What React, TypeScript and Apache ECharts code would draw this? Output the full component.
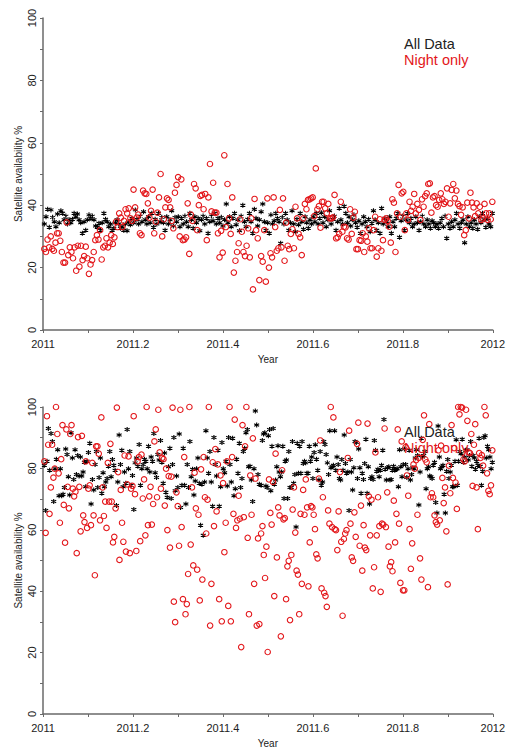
import React, { useEffect, useRef } from "react";
import * as echarts from "echarts";

// ---- Data ----
const X_MIN = 2011;
const X_MAX = 2012;
const Y_TICKS = [0, 20, 40, 60, 80, 100];
const X_TICK_STEP = 0.2;

// Sampling windows (decimal year) for each half of the year
const H1 = [2011.003, 2011.481];
const H2 = [2011.485, 2011.999];

// Top panel, "All Data"
const topAllH1 = [34, 36.3, 38.7, 32.9, 38.5, 36.1, 34.7, 33.1, 37.2, 34.4, 38.2, 37.4, 35.3, 36.5, 34, 35.3, 34.4, 35.5, 37.4, 36.3, 37.2, 35.3, 34.4, 31, 34.7, 32, 35.3, 36.9, 35.8, 36.5, 35.3, 33.3, 32.9, 34.2, 32, 34.4, 37.4, 35.5, 34.7, 33.1, 34, 32, 32.6, 34.4, 35.3, 34, 32.6, 33.1, 32, 34, 31.8, 34.7, 33.7, 35.8, 34.4, 38.5, 35.5, 34, 36.5, 34.7, 37.9, 35.3, 34, 36.3, 34.4, 37.4, 32.9, 35.5, 34, 37.4, 34.7, 36.1, 34.4, 32, 36.3, 34, 35.3, 38.2, 33.3, 36.1, 34.7, 36.3, 33.1, 35.8, 34, 36.5, 34.7, 33.1, 37.4, 35.3, 32.6, 36.3, 34.4, 35.8, 31.8, 35.3, 36.5, 34, 35.8, 31, 34.7, 36.5, 35, 37.4, 34, 35.8, 34.4, 36.1, 33.3, 35.3, 40.4, 34.4, 36.3, 33.1, 35.8, 37.4, 33.7, 35.3, 31.8, 36.5, 40, 34.7, 33.1, 35.5, 37.4, 34.7, 31, 38.7, 35.8, 33.3, 35.3];
const topAllH2 = [37.9, 40.4, 34.7, 32, 34.4, 31, 36.9, 34, 35, 37.4, 35.8, 34.7, 27.8, 36.1, 34, 37.4, 35.3, 32, 34.4, 38.2, 34, 31.5, 35.5, 33.7, 37.4, 34.7, 32.3, 36.3, 34.4, 32.6, 35.3, 34, 36.3, 34.7, 37.4, 34, 35.8, 37.6, 34.4, 36.3, 33.1, 35.3, 38.2, 34, 35.5, 36.5, 32, 34.7, 39, 35.3, 34, 39.7, 37.4, 34.4, 36.3, 33.3, 35.3, 36.9, 34.4, 32.9, 35, 31, 34, 36.3, 34.7, 33.1, 35.5, 31.5, 34.2, 38.2, 35.3, 32, 34.4, 31, 39, 34, 35.8, 34.7, 33.1, 36.3, 31, 34.7, 33.1, 35.8, 37.4, 29.7, 35, 36.5, 32, 35.3, 37.4, 34.4, 35.8, 33.1, 34, 36.3, 34.4, 32, 34.7, 36.5, 34, 33.1, 35.3, 34, 32.6, 35, 34.4, 33.1, 34, 32.6, 34.4, 35.8, 33.1, 36.5, 29.4, 34, 32.6, 34.7, 33.1, 35.3, 37.4, 34, 32.6, 34.4, 35.3, 28, 34, 36.3, 33.1, 34.4, 32.6, 35.3, 34, 32.3, 36.3, 34.4, 37.4, 35.3, 32.9, 35.8, 34, 33.1, 37.4];

// Top panel, "Night only"
const topNightH1 = [26, 25, 29, 26.5, 30, 26, 25.4, 28, 31, 31, 28.6, 25, 21.6, 21.6, 34.5, 24, 26.5, 25, 23, 26.5, 19, 27, 20.3, 27, 22.4, 23.7, 26.7, 23, 18, 21, 22.4, 25, 28.8, 30.4, 29, 32, 22.6, 26.5, 27, 29.4, 26.5, 28, 30.4, 27.6, 29.7, 34.7, 33, 37.4, 36, 33, 35, 38.7, 37.4, 39, 35.8, 35, 45, 39.3, 36, 37, 31, 30.4, 44.7, 43.8, 43.6, 40.6, 36, 38.2, 45, 31, 34.7, 37.6, 42.5, 50, 30, 35.5, 39.3, 42.2, 41.7, 39.3, 35, 32.6, 44, 46.5, 49, 30, 48.3, 28.8, 29, 29.7, 40.6, 24.4, 37, 35, 46.8, 45.4, 32, 40, 43, 43.3, 38.7, 43.6, 28.8, 42.5, 53.2, 38, 47.2, 37.6, 37.6, 31, 23.3, 31.8, 24.8, 56, 33, 46.8, 35.8, 30.8, 42.5, 18.4, 22.2, 25, 27.8, 35.5, 31.5, 25, 23.7, 27, 32.6, 23.3, 35.8, 13, 42, 32, 29.4, 16];
const topNightH2 = [23.7, 21.9, 32, 15.5, 42.2, 20, 24.6, 23.3, 42.5, 33, 25.4, 26.2, 38.5, 26.5, 42.2, 22.2, 34.4, 27, 25.9, 30.8, 32.3, 26.2, 39.5, 35.8, 30.8, 29.7, 24, 35.8, 40.4, 38.7, 41.7, 41.9, 42.2, 42.5, 36.5, 51.8, 38.7, 39.7, 32.8, 41.1, 41.1, 39, 37.4, 40.4, 35.8, 35.8, 36.1, 43.3, 29.4, 29.7, 30.8, 41.1, 31.5, 33.1, 32.9, 29.4, 29, 38.7, 30.8, 36, 37.9, 25.9, 25.9, 28.8, 28.6, 31, 25, 30, 28.3, 32.6, 26.2, 26.2, 32, 36.3, 23.5, 26.2, 35.5, 25.4, 28.8, 35.3, 35.8, 35, 33.1, 28, 41.9, 40.8, 25, 37.4, 46.5, 36.3, 43.8, 44.3, 32, 37.4, 35.3, 41.1, 38.2, 39.5, 43.6, 37.4, 40.4, 38.5, 35.3, 41.9, 39.5, 42.9, 43.8, 46.8, 47, 37.6, 42.5, 42.9, 40, 39.5, 41.7, 43.8, 41.9, 40.4, 41.1, 45.4, 36.3, 40.6, 44.9, 46.8, 42.2, 44.7, 40.4, 39.7, 36.9, 39.3, 30.4, 32, 40.8, 35.8, 44, 40.8, 39.3, 36.5, 40.6, 37.4, 39.5, 35.3, 35.8, 40.4, 37.4, 35.3, 37.4, 35.5, 41.1];

// Bottom panel, "All Data"
const botAllH1 = [81, 66.3, 82.3, 93, 79.4, 91.4, 88.8, 69.2, 79.9, 83, 86.1, 71.1, 79.9, 71.1, 71.6, 73.8, 86.3, 84.5, 77.3, 71.3, 91.6, 83.4, 76.4, 86.1, 78, 84.2, 77.5, 83.7, 77.5, 78.8, 82, 74, 82.3, 85.2, 88.2, 68.4, 76.4, 73, 81.3, 85.5, 73.8, 77, 83.4, 71.9, 78.6, 74, 75.6, 76.7, 80.7, 85.5, 77.3, 82.9, 81, 79.4, 67.9, 75.6, 90.9, 81.3, 85.9, 74, 78.8, 75.2, 92.7, 79.9, 85.5, 74.5, 77.7, 66.6, 81.8, 83.4, 80.7, 87.8, 74.5, 79.9, 81.3, 83, 82.3, 79.9, 87.2, 78.8, 83.7, 82.3, 91.4, 78.6, 77, 84.5, 82.7, 89.1, 82, 75.2, 85, 72.2, 70.6, 80.5, 86.6, 70.2, 81.3, 90.1, 72.7, 77.5, 73.8, 91.2, 67.3, 74.5, 86.6, 74.5, 68.4, 81.3, 73.8, 88.8, 77.3, 79.7, 71.3, 75.9, 79.9, 83.4, 75.2, 61.5, 74.8, 58.2, 75.6, 92.3, 83.4, 78.4, 85.5, 75.6, 67.7, 90.1, 81.3, 77.5, 85.9, 67.7, 74, 88.4, 79.9, 78.6, 82.3, 74.3, 90.1, 81.3, 75.6, 89.8, 71.1, 73.4, 83, 78.4, 88.2, 73.8, 76.7, 85.5, 86.6, 91.6, 92.7, 80.5, 80.7, 76.2, 69.2, 79.9, 98.7, 94.1, 78, 74.8];
const botAllH2 = [74.5, 89.1, 91.2, 91.6, 74.3, 73.8, 90.6, 92.7, 72.7, 87.2, 93, 74.8, 76.2, 80.5, 87.4, 78.8, 77.3, 78.8, 87.2, 70.2, 82.3, 82.7, 70.2, 85.5, 73.8, 73.8, 88.8, 75.2, 78, 60.9, 88.2, 78.4, 87.2, 78.4, 88.8, 81.6, 82.3, 81.8, 78.4, 78.4, 87.2, 82.3, 83.7, 76.7, 85.2, 87.7, 83, 79.4, 76.2, 85.5, 74.5, 75.6, 88.8, 87.8, 84.5, 81.8, 78, 92.3, 80.2, 80.5, 81, 92.3, 79.4, 83.7, 81.3, 76.7, 76.2, 82.9, 79.4, 90.9, 81.6, 78.4, 78.8, 66.3, 82.9, 78.8, 73, 80.2, 88.8, 88.4, 76.7, 86.3, 80.2, 71.9, 78.4, 76.4, 81.6, 89.5, 71.9, 80.5, 68.4, 76.7, 77.3, 76.4, 89.1, 85.9, 79.1, 79.7, 77.3, 79.4, 81, 85.9, 95.9, 79.7, 76.2, 80.2, 80.5, 76.2, 76.4, 79.4, 80.7, 79.4, 79.7, 79.9, 74, 86.1, 80.5, 77.3, 81.3, 86.3, 81.3, 77, 79.9, 85.9, 76.2, 78, 80.2, 79.9, 83.4, 86.1, 84.2, 68.1, 78.8, 89.8, 83.7, 84.2, 85.5, 73.4, 79.9, 80.5, 77.5, 77.3, 76.7, 81, 82, 68.9, 65.5, 93.8, 83.7, 79.9, 80.5, 81, 71.6, 65.5, 79.1, 82.9, 76.7, 78.8, 81, 74, 74, 82.3, 89.3, 74.5, 82.3, 85.5, 84.8, 89.5, 82, 83.7, 85.9, 86.1, 82.7, 84.2, 88.8, 80.7, 84.2, 83.4, 79.7, 82.3, 81, 89.8, 80.7, 74.5, 79.1, 90.1, 90.6, 83.4, 87.2, 86.1, 83.7, 79.9, 82];

// Bottom panel, "Night only"
const botNightH1 = [82.3, 59, 97, 87.7, 65.2, 73.8, 87.7, 77, 79.9, 100, 91.2, 78.4, 62.3, 83, 94.1, 68.1, 55.8, 92.7, 74, 67, 91.2, 94.1, 73.4, 70.9, 72.4, 52.4, 90.2, 74, 59.5, 90.6, 64.7, 62.5, 82.3, 60.6, 73.4, 74.5, 61.5, 81.8, 64.7, 45.2, 87.2, 87.2, 84.8, 63.1, 96.6, 73.8, 64.5, 69.2, 60.6, 81.8, 69.2, 88, 69.2, 55.9, 57.7, 67, 99.8, 78.8, 50.2, 73, 62.3, 56.1, 84.2, 52.9, 74.8, 83.9, 52.4, 73.4, 74.3, 97, 71.6, 53.1, 82.3, 83.7, 56.3, 84.5, 70.2, 76.4, 58.2, 100, 61.5, 70.9, 74, 61.7, 68.4, 88.8, 92.7, 70.6, 99.1, 85.2, 73.4, 83.4, 83, 67.9, 79.9, 59.9, 77.5, 54.2, 77.3, 99.8, 36.6, 29.9, 72.2, 67.7, 54.8, 99.1, 60.9, 37.4, 83.7, 32.5, 35.8, 45.6, 100, 55.2, 73.8, 48.4, 78.6, 67, 47, 64.9, 37, 79.7, 43.8, 83.7, 70.6, 58.8, 69.8, 100, 28.8, 42.4, 82, 61.2, 86.3, 66, 81.3, 37.4, 77.7, 30.2, 75.2, 52.7, 62.3, 82.3, 35.2, 100, 30.2, 83.7, 65.2, 95.9, 60.6, 63.1, 71.1, 63.6, 21.8, 94.1, 64.1, 87.2, 100, 57.4, 32.5, 77.7, 64.9, 89.8, 42.4, 76.7, 28.8, 57.2, 29.3];
const botNightH2 = [58.8, 61.2, 51.8, 44.3, 54.5, 20.2, 76.4, 65.5, 61.7, 75.6, 38.4, 84.8, 51, 67.3, 64.7, 25.3, 79.4, 63.4, 63.8, 37.4, 48.1, 49.9, 30.6, 51.8, 66.6, 73.8, 59.1, 46.7, 45.4, 32.5, 65.2, 42.4, 73, 64.9, 76.4, 67.3, 41.6, 55.9, 67.7, 67.3, 64.9, 60.2, 52, 50.7, 76.7, 89.1, 40.9, 70.6, 39.5, 38.4, 34.9, 66.3, 62, 100, 60.9, 96.6, 60.2, 59.9, 53.4, 66, 78.8, 56.1, 32, 57, 58.8, 59.9, 83.4, 92.3, 62, 51, 49.9, 65.7, 57.7, 88, 94.9, 54.8, 67.9, 46.7, 61.5, 54.2, 53.4, 94.6, 70.9, 58.2, 69.8, 40.9, 47.8, 85.2, 58.2, 70.6, 61.2, 39.8, 62, 61.7, 93, 60.9, 72.2, 54.5, 48.1, 49.5, 46.5, 69.5, 55.9, 65.2, 92.7, 62, 42.7, 88.8, 40.3, 40.3, 86.9, 77.7, 71.1, 60.2, 47.3, 55.6, 81.3, 79.9, 82.7, 64.9, 83.4, 50.7, 43.8, 89.3, 97.3, 82.9, 82, 41.3, 94.4, 70.6, 71.9, 70.6, 64.7, 62.5, 61.7, 85.9, 63.1, 87.4, 76.9, 68.7, 73.8, 59.5, 42.2, 80.9, 71.9, 94.1, 76.9, 86.6, 75.4, 66.8, 100, 97.6, 100, 99.8, 82.9, 82.3, 99.1, 95.5, 85.2, 85, 91.2, 74.3, 87.7, 94.4, 73.8, 60.2, 85, 83.4, 84.3, 80.9, 100, 97.3, 78.4, 72.7, 71.6, 74.5, 85.9];

const SERIES_NAMES = ["All Data", "Night only"];
const Y_NAME = "Satellite availability %";
const X_NAME = "Year";

// spread a list of readings evenly over a sampling window
function spread(vals: number[], win: number[]) {
  const n = vals.length;
  return vals.map((v, i) => [win[0] + ((win[1] - win[0]) * i) / (n - 1), v]);
}

const RED = "#e3171b";
const ASTERISK = "path://M5,0L5,10M0.67,2.5L9.33,7.5M0.67,7.5L9.33,2.5";
const FONT = '"Liberation Sans", Arial, sans-serif';

function makeAxes(gridIndex: number) {
  const axisLine = { show: true, lineStyle: { color: "#6a6a6a", width: 1.5 } };
  const tickStyle = { color: "#6a6a6a", width: 1 };
  return {
    x: {
      type: "value",
      gridIndex,
      min: X_MIN,
      max: X_MAX,
      interval: X_TICK_STEP,
      name: X_NAME,
      nameLocation: "middle",
      nameGap: 24,
      nameMoveOverlap: false,
      nameTextStyle: { fontSize: 10, color: "#222", fontFamily: FONT },
      axisLine,
      axisTick: { show: true, inside: false, length: 3, lineStyle: tickStyle },
      minorTick: { show: true, splitNumber: 2, length: 3, lineStyle: tickStyle },
      splitLine: { show: false },
      axisLabel: {
        fontSize: 11,
        color: "#222",
        fontFamily: FONT,
        margin: 8,
        formatter: (v: number) => String(Number(v.toFixed(1))),
      },
    },
    y: {
      type: "value",
      gridIndex,
      min: Y_TICKS[0],
      max: Y_TICKS[Y_TICKS.length - 1],
      interval: Y_TICKS[1] - Y_TICKS[0],
      name: Y_NAME,
      nameLocation: "middle",
      nameRotate: 90,
      nameGap: 20,
      nameMoveOverlap: false,
      nameTextStyle: { fontSize: 10, color: "#222", fontFamily: FONT },
      axisLine,
      axisTick: { show: true, inside: false, length: 3, lineStyle: tickStyle },
      minorTick: { show: true, splitNumber: 2, length: 3, lineStyle: tickStyle },
      splitLine: { show: false },
      axisLabel: { fontSize: 11, color: "#222", fontFamily: FONT, rotate: 90, margin: 6 },
    },
  };
}

function allSeries(idx: number, data: number[][]) {
  return {
    type: "scatter",
    name: SERIES_NAMES[0],
    xAxisIndex: idx,
    yAxisIndex: idx,
    symbol: ASTERISK,
    symbolSize: 5,
    clip: false,
    itemStyle: { color: "rgba(0,0,0,0)", borderColor: "#000", borderWidth: 1.1, opacity: 1 },
    data,
    z: 2,
  };
}

function nightSeries(idx: number, data: number[][]) {
  return {
    type: "scatter",
    name: SERIES_NAMES[1],
    xAxisIndex: idx,
    yAxisIndex: idx,
    symbol: "circle",
    symbolSize: 5.5,
    clip: false,
    itemStyle: { color: "rgba(0,0,0,0)", borderColor: RED, borderWidth: 1.1, opacity: 1 },
    data,
    z: 3,
  };
}

export default function App() {
  const ref = useRef<HTMLDivElement>(null);
  useEffect(() => {
    if (!ref.current) return;
    const chart = echarts.init(ref.current, null, { renderer: "svg" });
    const a0 = makeAxes(0);
    const a1 = makeAxes(1);
    const legendText = (text: string, left: number, top: number, color: string) => ({
      type: "text",
      left,
      top,
      z: 100,
      style: { text, fill: color, font: `14.5px ${FONT}` },
    });
    chart.setOption({
      animation: false,
      backgroundColor: "#fff",
      grid: [
        { left: 43, right: 14, top: 18, height: 312 },
        { left: 43, right: 14, top: 407, height: 311 },
      ],
      xAxis: [a0.x, a1.x],
      yAxis: [a0.y, a1.y],
      series: [
        allSeries(0, [...spread(topAllH1, H1), ...spread(topAllH2, H2)]),
        nightSeries(0, [...spread(topNightH1, H1), ...spread(topNightH2, H2)]),
        allSeries(1, [...spread(botAllH1, H1), ...spread(botAllH2, H2)]),
        nightSeries(1, [...spread(botNightH1, H1), ...spread(botNightH2, H2)]),
      ],
      graphic: [
        legendText(SERIES_NAMES[0], 404, 36, "#222"),
        legendText(SERIES_NAMES[1], 404, 52, RED),
        legendText(SERIES_NAMES[0], 404, 424, "#222"),
        legendText(SERIES_NAMES[1], 404, 440, RED),
      ],
    });
    return () => chart.dispose();
  }, []);
  return (
    <div
      ref={ref}
      style={{ position: "fixed", left: 0, top: 0, width: 508, height: 749, background: "#fff" }}
    />
  );
}
